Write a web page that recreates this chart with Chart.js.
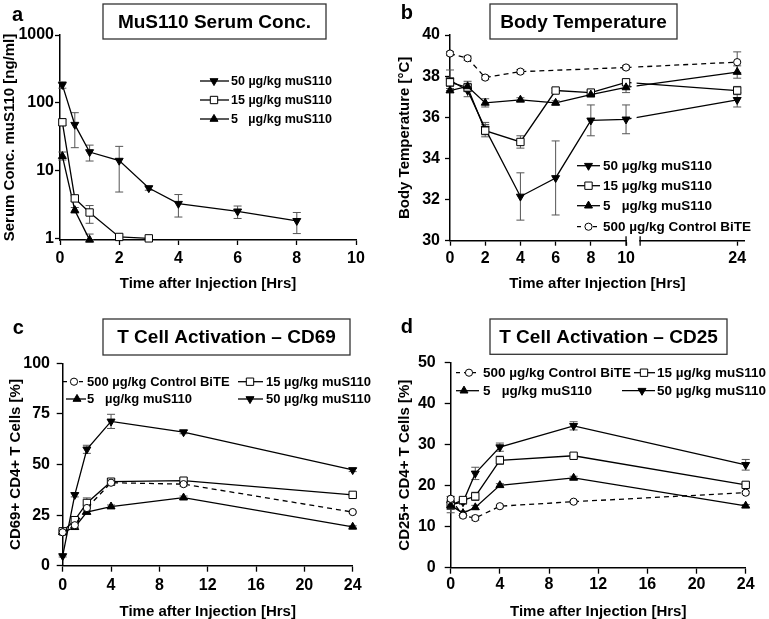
<!DOCTYPE html>
<html>
<head>
<meta charset="utf-8">
<script src="https://cdn.jsdelivr.net/npm/chart.js@4.4.1/dist/chart.umd.min.js"></script>
<style>
  html, body { margin: 0; padding: 0; background: #fff; }
  #fig { position: relative; width: 769px; height: 619px; overflow: hidden; background: #fff; }
  #fig canvas { position: absolute; }
</style>
</head>
<body>
<div id="fig">
  <canvas id="chartA" width="384" height="300" style="left:0;top:0"></canvas>
  <canvas id="chartB" width="385" height="300" style="left:384px;top:0"></canvas>
  <canvas id="chartC" width="384" height="319" style="left:0;top:300px"></canvas>
  <canvas id="chartD" width="385" height="319" style="left:384px;top:300px"></canvas>
</div>
<script>
const FONT = '"Liberation Sans", Arial, sans-serif';

const LABEL_50 = "50 µg/kg muS110";
const LABEL_15 = "15 µg/kg muS110";
const LABEL_5 = "5   µg/kg muS110";
const LABEL_CTRL = "500 µg/kg Control BiTE";
const X_TITLE = "Time after Injection [Hrs]";

// ── a: serum concentration (log axis), errors are [low, high] ──
const A_TIME_50 = [0.08, 0.5, 1, 2, 3, 4, 6, 8];
const A_CONC_50 = [185, 48, 19, 14.2, 5.6, 3.3, 2.55, 1.85];
const A_ERR_50 = [[165, 205], [22, 72], [14, 24], [4.9, 23], [5.2, 6], [2.1, 4.5], [2, 3.05], [1.2, 2.45]];
const A_TIME_15 = [0.08, 0.5, 1, 2, 3];
const A_CONC_15 = [52, 3.95, 2.45, 1.07, 1.02];
const A_ERR_15 = [[47, 58], [3.6, 4.3], [1.7, 3.1], null, null];
const A_TIME_5 = [0.08, 0.5, 1];
const A_CONC_5 = [16.5, 2.65, 0.97];
const A_ERR_5 = [[14.5, 19], [2.4, 2.9], [0.97, 1.18]];
const A_X_TICKS = [0, 2, 4, 6, 8, 10];
const A_Y_TICKS = [1, 10, 100, 1000];

// ── b: body temperature, errors are +/- ──
const B_TIME = [0, 1, 2, 4, 6, 8, 10, 24];
const B_TEMP_50 = [37.8, 37.3, 35.45, 32.15, 33.05, 35.85, 35.9, 36.85];
const B_ERR_50 = [0.5, 0.3, 0.3, 1.15, 1.8, 0.75, 0.7, 0.35];
const B_TEMP_15 = [37.7, 37.45, 35.35, 34.8, 37.3, 37.2, 37.7, 37.3];
const B_ERR_15 = [0.2, 0.2, 0.3, 0.3, 0.1, 0.1, 0.15, 0.2];
const B_TEMP_5 = [37.3, 37.5, 36.7, 36.85, 36.7, 37.1, 37.45, 38.2];
const B_ERR_5 = [0.1, 0.25, 0.2, 0.1, 0.1, 0.1, 0.25, 0.3];
const B_TIME_CTRL = [0, 1, 2, 4, 10, 24];
const B_TEMP_CTRL = [39.1, 38.87, 37.93, 38.22, 38.42, 38.68];
const B_ERR_CTRL = [0.1, 0.1, 0.1, 0.1, 0.1, 0.5];
const B_X_TICKS = [0, 2, 4, 6, 8, 10, 24];
const B_Y_TICKS = [30, 32, 34, 36, 38, 40];

// ── c: CD69 ──
const C_TIME = [0, 1, 2, 4, 10, 24];
const C_CTRL = [16.5, 20, 28.5, 41, 40.3, 26.5];
const C_ERR_CTRL = [1, 1, 1.5, 1, 1, 0.5];
const C_15 = [17, 22.5, 31, 41.5, 42, 35];
const C_ERR_15 = [1, 1, 2.5, 1.5, 1, 0.5];
const C_5 = [16.5, 19, 26.5, 29.2, 33.6, 19.2];
const C_ERR_5 = [1, 1, 1, 0.8, 0.8, 0.5];
const C_50 = [4.8, 35, 57.5, 71.3, 66, 47.3];
const C_ERR_50 = [0.5, 1, 2, 3.5, 0.8, 0.8];
const C_X_TICKS = [0, 4, 8, 12, 16, 20, 24];
const C_Y_TICKS = [0, 25, 50, 75, 100];

// ── d: CD25 ──
const D_TIME = [0, 1, 2, 4, 10, 24];
const D_CTRL = [16.8, 12.7, 12.1, 15, 16.1, 18.3];
const D_ERR_CTRL = [0.5, 0.5, 0.5, 0.3, 0.3, 0.3];
const D_15 = [15.3, 16.5, 17.4, 26.2, 27.3, 20.2];
const D_ERR_15 = [1, 0.5, 1, 1, 0.5, 0.5];
const D_5 = [15.2, 13.3, 14.7, 20.1, 21.9, 15.1];
const D_ERR_5 = [1, 0.5, 0.5, 0.4, 0.4, 0.3];
const D_50 = [15.4, 16, 23, 29.4, 34.6, 25.1];
const D_ERR_50 = [2, 0.5, 1.5, 1, 1, 1.3];
const D_X_TICKS = [0, 4, 8, 12, 16, 20, 24];
const D_Y_TICKS = [0, 10, 20, 30, 40, 50];

// broken time axis of panel b: hours after 10 are compressed
const BREAK_AT = 10;
const BREAK_SCALE = 0.451;
const toBroken = (h) => (h <= BREAK_AT ? h : BREAK_AT + (h - BREAK_AT) * BREAK_SCALE);

const SERIES = {
    s50: { label: LABEL_50, shape: "triangle", rotation: 180, radius: 4.6, fill: "#000", dash: [] },
    s15: { label: LABEL_15, shape: "rect", rotation: 0, radius: 5.2, fill: "#fff", dash: [] },
    s5: { label: LABEL_5, shape: "triangle", rotation: 0, radius: 4.6, fill: "#000", dash: [] },
    ctrl: { label: LABEL_CTRL, shape: "circle", rotation: 0, radius: 3.6, fill: "#fff", dash: [5, 4] },
};

function series(key, xs, ys, errs, mapX = (v) => v) {
    const s = SERIES[key];
    return {
        label: s.label,
        data: xs.map((x, i) => ({ x: mapX(x), y: ys[i] })),
        errors: errs,
        borderColor: "#000",
        borderWidth: 1.3,
        borderDash: s.dash,
        pointStyle: s.shape,
        pointRotation: s.rotation,
        pointRadius: s.radius,
        pointBackgroundColor: s.fill,
        pointBorderColor: "#000",
        pointBorderWidth: 1,
        fill: false,
        tension: 0,
        clip: false,
    };
}

function axis(o) {
    return {
        type: o.type || "linear",
        min: o.min,
        max: o.max,
        afterBuildTicks: (scale) => {
            scale.ticks = o.ticks.map((v) => ({ value: o.map ? o.map(v) : v }));
        },
        afterFit: (scale) => {
            if (o.width) scale.width = o.width;
            if (o.height) scale.height = o.height;
        },
        ticks: {
            color: "#000",
            font: { family: FONT, size: 16, weight: "bold" },
            padding: o.pad,
            autoSkip: false,
            maxRotation: 0,
            callback: (v, i) => String(o.ticks[i]),
        },
        grid: { drawOnChartArea: false, drawTicks: true, tickLength: o.tickLen || 5, tickColor: "#000", tickWidth: 1.3 },
        border: { display: true, color: "#000", width: 1.5 },
        title: {
            display: true,
            text: o.title,
            color: "#000",
            font: { family: FONT, size: 15, weight: "bold", lineHeight: 1 },
            padding: 0,
        },
    };
}

// ── marker drawing for the hand placed legends ──
function drawMarker(ctx, s, x, y) {
    ctx.save();
    ctx.setLineDash([]);
    ctx.lineWidth = 1;
    ctx.strokeStyle = "#000";
    ctx.fillStyle = s.fill;
    ctx.beginPath();
    const r = s.radius;
    if (s.shape === "triangle") {
        const d = s.rotation === 180 ? -1 : 1;
        const hw = r * Math.sin(Math.PI / 3);
        ctx.moveTo(x, y - d * r);
        ctx.lineTo(x + hw, y + d * r / 2);
        ctx.lineTo(x - hw, y + d * r / 2);
        ctx.closePath();
    } else if (s.shape === "rect") {
        const h = r * Math.SQRT1_2;
        ctx.rect(x - h, y - h, 2 * h, 2 * h);
    } else {
        ctx.arc(x, y, r, 0, Math.PI * 2);
    }
    ctx.fill();
    ctx.stroke();
    ctx.restore();
}

const errorBars = {
    id: "errorBars",
    beforeDatasetsDraw(chart) {
        const { ctx, scales: { x, y } } = chart;
        ctx.save();
        ctx.strokeStyle = "#555";
        ctx.lineWidth = 1;
        chart.data.datasets.forEach((ds) => {
            if (!ds.errors) return;
            ds.data.forEach((pt, i) => {
                const e = ds.errors[i];
                if (e == null) return;
                const [lo, hi] = Array.isArray(e) ? e : [pt.y - e, pt.y + e];
                const px = x.getPixelForValue(pt.x);
                const y1 = y.getPixelForValue(lo);
                const y2 = y.getPixelForValue(hi);
                ctx.beginPath();
                ctx.moveTo(px, y1);
                ctx.lineTo(px, y2);
                ctx.moveTo(px - 4, y1);
                ctx.lineTo(px + 4, y1);
                ctx.moveTo(px - 4, y2);
                ctx.lineTo(px + 4, y2);
                ctx.stroke();
            });
        });
        ctx.restore();
    },
};

function drawAxisBreak(chart) {
    const { ctx, chartArea, scales: { x } } = chart;
    const xa = x.getPixelForValue(BREAK_AT);
    const xl = x.getPixelForValue(BREAK_AT + 0.6);
    const xb = x.getPixelForValue(BREAK_AT + 0.8);
    ctx.save();
    ctx.fillStyle = "#fff";
    ctx.fillRect(xa + 5.5, chartArea.top, xl - xa - 5.5, chartArea.bottom - chartArea.top - 1);
    ctx.fillRect(xa + 0.9, chartArea.bottom - 1.5, xb - xa - 1.8, 3);
    ctx.strokeStyle = "#000";
    ctx.lineWidth = 1.3;
    ctx.beginPath();
    [xa, xb].forEach((px) => {
        ctx.moveTo(px, chartArea.bottom - 4.5);
        ctx.lineTo(px, chartArea.bottom + 5);
    });
    ctx.stroke();
    ctx.restore();
}

function panelDecor(cfg) {
    return {
        id: "panelDecor",
        afterDatasetsDraw(chart) {
            if (cfg.axisBreak) drawAxisBreak(chart);
        },
        afterDraw(chart) {
            const { ctx } = chart;
            ctx.save();
            ctx.fillStyle = "#000";
            ctx.textBaseline = "alphabetic";
            ctx.textAlign = "left";
            ctx.font = `bold 20px ${FONT}`;
            ctx.fillText(cfg.letter.text, cfg.letter.x, cfg.letter.y);

            const b = cfg.box;
            ctx.fillStyle = "#fff";
            ctx.fillRect(b.x, b.y, b.w, b.h);
            ctx.strokeStyle = "#333";
            ctx.lineWidth = 1.3;
            ctx.strokeRect(b.x, b.y, b.w, b.h);
            ctx.fillStyle = "#000";
            ctx.font = `bold 19px ${FONT}`;
            ctx.textAlign = "center";
            ctx.textBaseline = "middle";
            ctx.fillText(b.text, b.x + b.w / 2, b.y + b.h / 2 + 1);

            ctx.textAlign = "left";
            ctx.font = `bold ${cfg.legendSize}px ${FONT}`;
            cfg.legend.forEach((it) => {
                const s = SERIES[it.key];
                ctx.save();
                ctx.strokeStyle = "#000";
                ctx.lineWidth = 1.3;
                ctx.setLineDash(s.dash.length ? [4, 4] : []);
                ctx.beginPath();
                ctx.moveTo(it.x0, it.y);
                ctx.lineTo(it.x1, it.y);
                ctx.stroke();
                ctx.restore();
                drawMarker(ctx, s, it.mx, it.y);
                ctx.fillStyle = "#000";
                ctx.fillText(s.label, it.tx, it.y + 0.5);
            });
            ctx.restore();
        },
    };
}

function makeChart(id, { datasets, x, y, padding, decor }) {
    return new Chart(document.getElementById(id), {
        type: "line",
        data: { datasets },
        options: {
            responsive: false,
            animation: false,
            devicePixelRatio: 1,
            layout: { padding },
            plugins: { legend: { display: false }, tooltip: { enabled: false } },
            scales: { x, y },
        },
        plugins: [errorBars, panelDecor(decor)],
    });
}

function legendRows(keys, rows, x0, x1, mx, tx) {
    return keys.map((key, i) => ({ key, y: rows[i], x0, x1, mx, tx }));
}

// panel a
makeChart("chartA", {
    datasets: [
        series("s50", A_TIME_50, A_CONC_50, A_ERR_50),
        series("s15", A_TIME_15, A_CONC_15, A_ERR_15),
        series("s5", A_TIME_5, A_CONC_5, A_ERR_5),
    ],
    x: axis({ min: 0, max: 10, ticks: A_X_TICKS, pad: 3.5, height: 51.5, title: X_TITLE }),
    y: axis({ type: "logarithmic", min: 0.965, max: 1000, ticks: A_Y_TICKS, pad: 1, width: 57.5, title: "Serum Conc. muS110 [ng/ml]" }),
    padding: { left: 2.5, top: 35, right: 28, bottom: 8.5 },
    decor: {
        letter: { text: "a", x: 12, y: 20.7 },
        box: { x: 103, y: 4, w: 223, h: 35, text: "MuS110 Serum Conc." },
        legendSize: 12.5,
        legend: legendRows(["s50", "s15", "s5"], [81, 100, 119], 200, 229, 214, 231),
    },
});

// panel b
makeChart("chartB", {
    datasets: [
        series("ctrl", B_TIME_CTRL, B_TEMP_CTRL, B_ERR_CTRL, toBroken),
        series("s5", B_TIME, B_TEMP_5, B_ERR_5, toBroken),
        series("s15", B_TIME, B_TEMP_15, B_ERR_15, toBroken),
        series("s50", B_TIME, B_TEMP_50, B_ERR_50, toBroken),
    ],
    x: axis({ min: 0, max: 16.74, ticks: B_X_TICKS, map: toBroken, pad: 3, height: 50.8, title: X_TITLE }),
    y: axis({ min: 30, max: 40, ticks: B_Y_TICKS, pad: 5, width: 52.7, title: "Body Temperature [°C]" }),
    padding: { left: 13.3, top: 35, right: 24.3, bottom: 8.5 },
    decor: {
        axisBreak: true,
        letter: { text: "b", x: 16.7, y: 19 },
        box: { x: 106, y: 4, w: 187, h: 35, text: "Body Temperature" },
        legendSize: 13.5,
        legend: legendRows(["s50", "s15", "s5", "ctrl"], [165.7, 185.7, 205.7, 226.7], 193, 216, 204.5, 219),
    },
});

// panel c
makeChart("chartC", {
    datasets: [
        series("ctrl", C_TIME, C_CTRL, C_ERR_CTRL),
        series("s5", C_TIME, C_5, C_ERR_5),
        series("s15", C_TIME, C_15, C_ERR_15),
        series("s50", C_TIME, C_50, C_ERR_50),
    ],
    x: axis({ min: 0, max: 24, ticks: C_X_TICKS, pad: 4.7, tickLen: 6, height: 53.3, title: X_TITLE }),
    y: axis({ min: 0, max: 100, ticks: C_Y_TICKS, pad: 6.7, tickLen: 6, width: 54.7, title: "CD69+ CD4+ T Cells [%]" }),
    padding: { left: 8, top: 63.3, right: 31.3, bottom: 0 },
    decor: {
        letter: { text: "c", x: 12.7, y: 34 },
        box: { x: 103, y: 19, w: 247, h: 36, text: "T Cell Activation – CD69" },
        legendSize: 13,
        legend: [
            { key: "ctrl", y: 81.7, x0: 63, x1: 85, mx: 74, tx: 87 },
            { key: "s15", y: 81.7, x0: 238, x1: 263, mx: 250, tx: 266 },
            { key: "s5", y: 99, x0: 66, x1: 86, mx: 77, tx: 87 },
            { key: "s50", y: 99, x0: 238, x1: 263, mx: 250, tx: 266 },
        ],
    },
});

// panel d
makeChart("chartD", {
    datasets: [
        series("ctrl", D_TIME, D_CTRL, D_ERR_CTRL),
        series("s5", D_TIME, D_5, D_ERR_5),
        series("s15", D_TIME, D_15, D_ERR_15),
        series("s50", D_TIME, D_50, D_ERR_50),
    ],
    x: axis({ min: 0, max: 24, ticks: D_X_TICKS, pad: 1.7, tickLen: 6, height: 51.3, title: X_TITLE }),
    y: axis({ min: 0, max: 50, ticks: D_Y_TICKS, pad: 9, tickLen: 6, width: 53.6, title: "CD25+ CD4+ T Cells [%]" }),
    padding: { left: 13.1, top: 62.7, right: 23.3, bottom: 0 },
    decor: {
        letter: { text: "d", x: 16.7, y: 33.3 },
        box: { x: 106, y: 19, w: 237, h: 35.3, text: "T Cell Activation – CD25" },
        legendSize: 13.5,
        legend: [
            { key: "ctrl", y: 72.7, x0: 72, x1: 95, mx: 85, tx: 99 },
            { key: "s15", y: 72.7, x0: 250, x1: 271, mx: 260, tx: 273 },
            { key: "s5", y: 90.7, x0: 72, x1: 95, mx: 80, tx: 99 },
            { key: "s50", y: 90.7, x0: 238, x1: 271, mx: 258, tx: 273 },
        ],
    },
});
</script>
</body>
</html>
